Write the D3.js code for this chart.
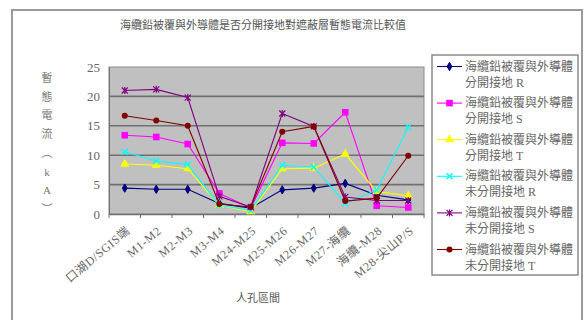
<!DOCTYPE html>
<html><head><meta charset="utf-8">
<script src="https://cdn.jsdelivr.net/npm/d3@7"></script>
<style>body{margin:0;background:#fff}svg{display:block}</style>
</head><body>
<script>
const categories = ["口湖D/SGIS端","M1-M2","M2-M3","M3-M4","M24-M25","M25-M26","M26-M27","M27-海纜","海纜-M28","M28-尖山P/S"];
const seriesNames = ["海纜鉛被覆與外導體分開接地 R","海纜鉛被覆與外導體分開接地 S","海纜鉛被覆與外導體分開接地 T","海纜鉛被覆與外導體未分開接地 R","海纜鉛被覆與外導體未分開接地 S","海纜鉛被覆與外導體未分開接地 T"];
const sepR   = [4.4, 4.2, 4.2, 1.8, 1.0, 4.1, 4.4, 5.2, 3.2, 2.4];
const sepS   = [13.4, 13.1, 11.9, 3.5, 1.0, 12.1, 12.0, 17.3, 1.4, 1.1];
const sepT   = [8.5, 8.3, 7.7, 1.5, 0.4, 7.7, 7.8, 10.2, 3.8, 3.1];
const unsepR = [10.6, 9.0, 8.4, 1.5, 0.6, 8.3, 8.0, 1.8, 4.1, 14.8];
const unsepS = [21.0, 21.2, 19.8, 3.0, 1.2, 17.1, 14.9, 2.9, 2.3, 2.3];
const unsepT = [16.7, 15.9, 15.0, 1.7, 1.2, 14.0, 14.9, 2.2, 2.7, 9.9];
const yTicks = [0, 5, 10, 15, 20, 25];
const titleText = "海纜鉛被覆與外導體是否分開接地對遮蔽層暫態電流比較值";
const yTitleChars = ["暫","態","電","流","︵","k","A","︶"];
const xTitleText = "人孔區間";

const colors = ["#000080","#ff00ff","#ffff00","#00ffff","#800080","#800000"];
const markers = ["diamond","square","triangle","x","star","circle"];
const seriesValues = [sepR, sepS, sepT, unsepR, unsepS, unsepT];

const W = 585, H = 320;
const svg = d3.select("body").append("svg").attr("width", W).attr("height", H);
const fontCJK = "'Liberation Serif','Noto Sans CJK TC',serif";

// outer border
svg.append("rect").attr("x", 12).attr("y", 10).attr("width", 570).attr("height", 320)
  .attr("fill", "#fff").attr("stroke", "#9a9a9a").attr("stroke-width", 2);

const plot = {l: 109, r: 424, t: 67, b: 214};
const x = d3.scaleBand().domain(categories).range([plot.l, plot.r]);
const y = d3.scaleLinear().domain([0, 25]).range([plot.b, plot.t]);

// plot background
svg.append("rect").attr("x", plot.l).attr("y", plot.t).attr("width", plot.r - plot.l).attr("height", plot.b - plot.t)
  .attr("fill", "#c0c0c0").attr("stroke", "#8a8a8a").attr("stroke-width", 1);

// gridlines
svg.append("g").selectAll("line").data(yTicks.filter(d => d > 0 && d < 25)).join("line")
  .attr("x1", plot.l).attr("x2", plot.r).attr("y1", d => y(d)).attr("y2", d => y(d))
  .attr("stroke", "#707070").attr("stroke-width", 1.6);

// y axis
const yAxis = svg.append("g").attr("transform", `translate(${plot.l},0)`)
  .call(d3.axisLeft(y).tickValues(yTicks).tickSize(0).tickPadding(9));
yAxis.select(".domain").attr("stroke", "#707070");
yAxis.selectAll("text").attr("font-family", "'Liberation Serif',serif").attr("font-size", 13).attr("fill", "#666");

// x axis
const xAxis = svg.append("g").attr("transform", `translate(0,${plot.b})`)
  .call(d3.axisBottom(x).tickSize(0).tickFormat(""));
xAxis.select(".domain").attr("stroke", "#707070").attr("stroke-width", 1.5);
const bounds = categories.map(c => x(c)).concat([x(categories[categories.length-1]) + x.bandwidth()]);
svg.append("g").selectAll("line").data(bounds).join("line")
  .attr("x1", d => d).attr("x2", d => d).attr("y1", plot.b).attr("y2", plot.b + 4)
  .attr("stroke", "#707070");
svg.append("g").selectAll("text").data(categories).join("text")
  .attr("transform", d => `translate(${x(d) + x.bandwidth()/2 + 6},${plot.b + 18}) rotate(-40)`)
  .attr("text-anchor", "end").attr("font-family", fontCJK).attr("font-size", 12)
  .attr("letter-spacing", 0.6).attr("fill", "#666")
  .text(d => d);

// title
svg.append("text").attr("x", 263).attr("y", 29).attr("text-anchor", "middle")
  .attr("font-family", fontCJK).attr("font-size", 11).attr("fill", "#555").text(titleText);

// y axis title
svg.append("g").selectAll("text").data(yTitleChars).join("text")
  .attr("x", 47).attr("y", (d, i) => 82 + i * 18.7).attr("text-anchor", "middle")
  .attr("font-family", fontCJK).attr("font-size", 11).attr("fill", "#777").text(d => d);

// x axis title
svg.append("text").attr("x", 258).attr("y", 302).attr("text-anchor", "middle")
  .attr("font-family", fontCJK).attr("font-size", 11).attr("fill", "#555").text(xTitleText);

function drawMarker(g, type, color) {
  if (type === "diamond") g.append("path").attr("d", d3.symbol(d3.symbolDiamond, 20)()).attr("fill", color).attr("stroke", color);
  else if (type === "square") g.append("rect").attr("x", -3.3).attr("y", -3.3).attr("width", 6.6).attr("height", 6.6).attr("fill", color);
  else if (type === "triangle") g.append("path").attr("d", d3.symbol(d3.symbolTriangle, 36)()).attr("fill", color);
  else if (type === "x") g.append("path").attr("d", "M-3,-3L3,3M-3,3L3,-3").attr("stroke", color).attr("stroke-width", 1.4);
  else if (type === "star") g.append("path").attr("d", "M-3,-3L3,3M-3,3L3,-3M0,-3.5L0,3.5").attr("stroke", color).attr("stroke-width", 1.2);
  else if (type === "circle") g.append("circle").attr("r", 3).attr("fill", color);
}

const line = d3.line().x((d, i) => x(categories[i]) + x.bandwidth()/2).y(d => y(d));
seriesValues.forEach((vals, si) => {
  const g = svg.append("g");
  g.append("path").datum(vals).attr("d", line).attr("fill", "none")
    .attr("stroke", colors[si]).attr("stroke-width", 1.1);
  vals.forEach((v, i) => {
    const mg = g.append("g").attr("transform", `translate(${x(categories[i]) + x.bandwidth()/2},${y(v)})`);
    drawMarker(mg, markers[si], colors[si]);
  });
});

// legend
svg.append("rect").attr("x", 432).attr("y", 55).attr("width", 146).attr("height", 220)
  .attr("fill", "#fff").attr("stroke", "#8a8a8a").attr("stroke-width", 1.5);
seriesNames.forEach((name, si) => {
  const ly = 66.5 + si * 36.6;
  const g = svg.append("g");
  g.append("line").attr("x1", 437).attr("x2", 462).attr("y1", ly).attr("y2", ly)
    .attr("stroke", colors[si]).attr("stroke-width", 1.1);
  drawMarker(g.append("g").attr("transform", `translate(449.5,${ly})`), markers[si], colors[si]);
  const parts = name.split("體");
  const t = g.append("text").attr("font-family", fontCJK).attr("font-size", 12).attr("fill", "#666");
  t.append("tspan").attr("x", 465).attr("y", ly + 4).text(parts[0] + "體");
  t.append("tspan").attr("x", 465).attr("y", ly + 20).text(parts[1]);
});
</script>
</body></html>
